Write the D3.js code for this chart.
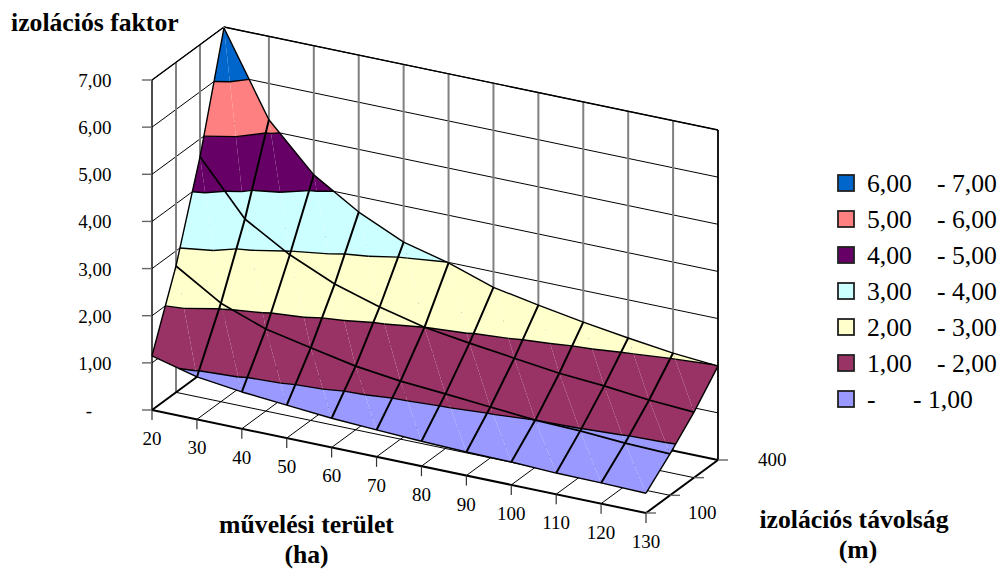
<!DOCTYPE html>
<html><head><meta charset="utf-8">
<script src="https://cdn.jsdelivr.net/npm/d3@7/dist/d3.min.js"></script>
<style>html,body{margin:0;padding:0;background:#fff}svg{display:block}text{font-family:"Liberation Serif","Times New Roman",serif;fill:#000}</style>
</head><body><svg id="c" width="1004" height="569"></svg>
<script>
const categories=[20,30,40,50,60,70,80,90,100,110,120,130];
const depths=[100,200,300,400];
const depthLabelled=[100,400];
const valueTicks=[0,1,2,3,4,5,6,7];
const valueTickLabels=["-","1,00","2,00","3,00","4,00","5,00","6,00","7,00"];
const series100=[1.15,0.90,0.78,0.70,0.62,0.57,0.53,0.50,0.485,0.45,0.44,0.42];
const series200=[2.68,2.09,1.74,1.54,1.35,1.23,1.16,1.08,1.00,0.97,0.91,0.88];
const series300=[4.62,3.50,2.94,2.52,2.23,2.00,1.86,1.74,1.62,1.55,1.45,1.39];
const series400=[6.98,5.23,4.26,3.67,3.23,2.99,2.67,2.49,2.33,2.19,2.07,1.99];
const bandColors=["#9999FF","#993366","#FFFFCC","#CCFFFF","#660066","#FF8080","#0066CC"];
const legendLabels=[["6,00","- 7,00"],["5,00","- 6,00"],["4,00","- 5,00"],["3,00","- 4,00"],["2,00","- 3,00"],["1,00","- 2,00"],["-","- 1,00"]];
const surface=[series100,series200,series300,series400];

const svg=d3.select("#c");
const iScale=d3.scaleLinear().domain([0,categories.length-1]);
const ix=iScale.copy().range([152,646]), iy=iScale.copy().range([0,103]);
const dn=depths.length-1;
const dx=d3.scaleLinear().domain([0,dn]).range([0,72]), dy=d3.scaleLinear().domain([0,dn]).range([0,-53]);
const vy=d3.scaleLinear().domain([0,7]).range([0,-330]);
const P=(i,d,v)=>[ix(i)+dx(d),410+iy(i)+dy(d)+vy(v)];
const line=d3.line();
const I=categories.length-1;
function seg(g,a,b,stroke,w){g.append("path").attr("d",line([a,b])).attr("fill","none").attr("stroke",stroke).attr("stroke-width",w);}

// walls and floor
const g=svg.append("g");
valueTicks.forEach(v=>{ if(v===0) return;
  seg(g,P(0,0,v),P(0,dn,v),"#000",1);
  seg(g,P(0,dn,v),P(I,dn,v),"#000",1);
});
d3.range(1,dn).forEach(d=>seg(g,P(0,d,0),P(0,d,7),"#808080",2));
d3.range(1,I).forEach(i=>seg(g,P(i,dn,0),P(i,dn,7),"#808080",2));
d3.range(1,I).forEach(i=>seg(g,P(i,0,0),P(i,dn,0),"#000",1));
d3.range(1,dn).forEach(d=>seg(g,P(0,d,0),P(I,d,0),"#000",1));
// frame
seg(g,P(0,0,0),P(0,0,7),"#000",1.4);
seg(g,P(0,0,7),P(0,dn,7),"#000",1.4);
seg(g,P(0,dn,7),P(I,dn,7),"#000",1.4);
seg(g,P(I,dn,0),P(I,dn,7),"#000",1.8);
seg(g,P(0,dn,0),P(0,dn,7),"#808080",2);
seg(g,P(0,0,0),P(I,0,0),"#000",2);
seg(g,P(0,0,0),P(0,dn,0),"#000",2);
seg(g,P(I,0,0),P(I,dn,0),"#000",2);
seg(g,P(0,dn,0),P(I,dn,0),"#000",1.8);
// ticks
valueTicks.forEach(v=>{const p=P(0,0,v);seg(g,[p[0]-10,p[1]],p,"#666",1.4);});
categories.forEach((c,i)=>{const p=P(i,0,0);seg(g,p,[p[0],p[1]+10],"#333",1.2);});
depths.forEach((c,d)=>{const p=P(I,d,0);seg(g,p,[p[0]+10,p[1]],"#666",1.4);});

// surface: triangles split along the (i,d+1)-(i+1,d) diagonal, clipped to bands
function clip(poly,test,level){
  const out=[];
  poly.forEach((a,k)=>{const b=poly[(k+1)%poly.length];
    const ia=test(a[2]), ib=test(b[2]);
    if(ia) out.push(a);
    if(ia!==ib){const t=(level-a[2])/(b[2]-a[2]);out.push([a[0]+t*(b[0]-a[0]),a[1]+t*(b[1]-a[1]),level]);}
  });
  return out;
}
const sg=svg.append("g");
const lines=[];
function tri(t){
  bandColors.forEach((col,k)=>{
    let p=clip(t,z=>z>=k,k); if(p.length>=3) p=clip(p,z=>z<=k+1,k+1);
    if(p.length>=3) sg.append("path").attr("d",line(p.map(q=>P(q[0],q[1],q[2])))+"Z").attr("fill",col);
  });
  d3.range(1,bandColors.length).forEach(l=>{
    const pts=[];
    t.forEach((a,n)=>{const b=t[(n+1)%3];
      if((a[2]<l)!==(b[2]<l)){const u=(l-a[2])/(b[2]-a[2]);pts.push(P(a[0]+u*(b[0]-a[0]),a[1]+u*(b[1]-a[1]),l));}
    });
    if(pts.length===2) lines.push(pts);
  });
}
for(let d=dn-1;d>=0;d--) for(let i=0;i<I;i++){
  const v=(a,b)=>[a,b,surface[b][a]];
  tri([v(i,d),v(i+1,d),v(i,d+1)]);
  tri([v(i+1,d),v(i+1,d+1),v(i,d+1)]);
}
const lg=svg.append("g");
lines.forEach(l=>seg(lg,l[0],l[1],"#000",1.4));
const surfPt=(i,d)=>P(i,d,surface[d][i]);
surface.forEach((r,d)=>lg.append("path").attr("d",line(r.map((_,i)=>surfPt(i,d)))).attr("fill","none").attr("stroke","#000").attr("stroke-width",d===0||d===dn?1.4:1.7).attr("stroke-linejoin","round"));
categories.forEach((c,i)=>lg.append("path").attr("d",line(depths.map((_,d)=>surfPt(i,d)))).attr("fill","none").attr("stroke","#000").attr("stroke-width",i===0||i===I?1.4:2).attr("stroke-linejoin","round"));

// labels
const T=(x,y,s,size,anchor,bold)=>svg.append("text").attr("x",x).attr("y",y).attr("font-size",size).attr("text-anchor",anchor||"start").attr("font-weight",bold?"bold":"normal").text(s);
valueTicks.forEach((v,k)=>{const p=P(0,0,v);T(k===0?92:111.5,p[1]+7,valueTickLabels[k],19,"end");});
categories.forEach((c,i)=>{const p=P(i,0,0);T(p[0],p[1]+35,c,19,"middle");});
depthLabelled.forEach(c=>{const d=depths.indexOf(c);const p=P(I,d,0);T(d===0?688:758,p[1]+6,c,19,"start");});
T(11,31,"izolációs faktor",25.7,"start",true);
T(306.5,533,"művelési terület",25.7,"middle",true);
T(306.5,563,"(ha)",25.7,"middle",true);
T(854,528,"izolációs távolság",25.7,"middle",true);
T(858,558,"(m)",25.7,"middle",true);
// legend
const rowY=d3.scaleLinear().domain([0,6]).range([183,399]);
legendLabels.forEach((l,k)=>{const y=rowY(k);
  svg.append("rect").attr("x",838).attr("y",y-8).attr("width",16).attr("height",16).attr("fill",bandColors[6-k]).attr("stroke","#222").attr("stroke-width",1.8);
  T(867,y+9,l[0],25.7);
  T(k===6?913:937,y+9,l[1],25.7);
});
</script></body></html>
